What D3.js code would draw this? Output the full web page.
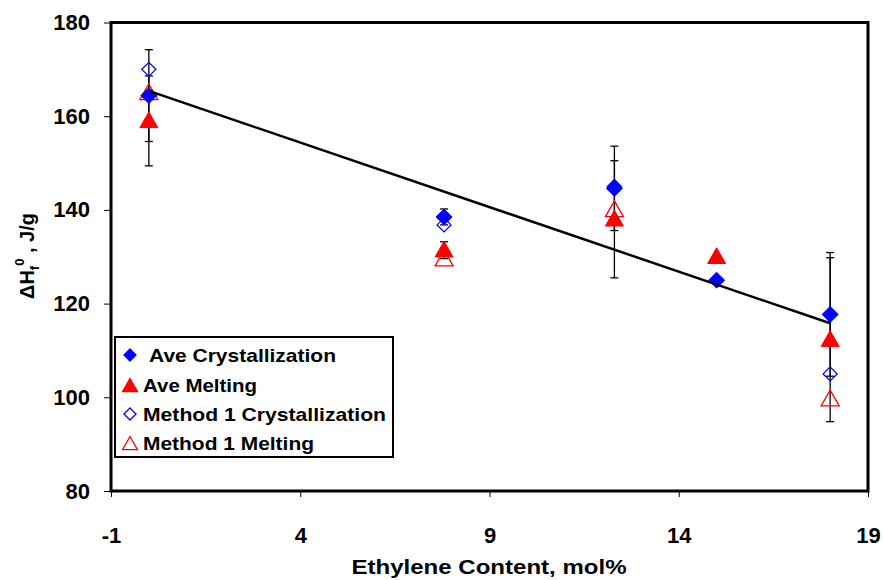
<!DOCTYPE html>
<html><head><meta charset="utf-8">
<script src="https://cdn.jsdelivr.net/npm/d3@7"></script>
<style>body{margin:0;background:#fff}svg{display:block}text{font-family:"Liberation Sans",Arial,sans-serif;font-weight:bold}</style>
</head><body>
<svg id="chart" width="884" height="580"></svg>
<script>
// Data
const xTicks = [-1, 4, 9, 14, 19];
const yTicks = [80, 100, 120, 140, 160, 180];
const aveCrystX = [0, 7.8, 12.3, 15, 18];
const aveCrystY = [164.4, 138.5, 144.6, 125, 117.7];
const aveCrystErr = [9.8, 1.7, 9.0, 0, 13.2];
const aveMeltX = [0, 7.8, 12.3, 15, 18];
const aveMeltY = [159.0, 131.4, 138.0, 130, 112.3];
const aveMeltErr = [9.6, 1.8, 12.5, 0, 17.5];
const m1CrystX = [0, 7.8, 12.3, 18];
const m1CrystY = [170, 136.8, 145, 105];
const m1MeltX = [0, 7.8, 12.3, 18];
const m1MeltY = [165, 129.5, 140, 99.6];
const trendX = [0, 18];
const trendY = [165.4, 115.8];
const legendLabels = ["Ave Crystallization", "Ave Melting", "Method 1 Crystallization", "Method 1 Melting"];

const svg = d3.select("#chart");
const L = 111, R = 868, T = 22.5, B = 491;
const x = d3.scaleLinear().domain([-1, 19]).range([L, R]);
const y = d3.scaleLinear().domain([80, 180]).range([B, T]);

// axes
const xAxis = svg.append("g").attr("transform", `translate(0,${B})`)
  .call(d3.axisBottom(x).tickValues(xTicks).tickSize(6).tickPadding(30).tickFormat(d => String(d)));
const yAxis = svg.append("g").attr("transform", `translate(${L},0)`)
  .call(d3.axisLeft(y).tickValues(yTicks).tickSize(7).tickPadding(14).tickFormat(d => String(d)));
[xAxis, yAxis].forEach(g => {
  g.select(".domain").remove();
  g.selectAll("line").attr("stroke", "#000").attr("stroke-width", 1);
  g.selectAll("text").attr("font-size", 22).attr("font-weight", "bold").attr("fill", "#000")
   .attr("font-family", "Liberation Sans, Arial, sans-serif");
});

// frame
svg.append("rect").attr("x", L).attr("y", T).attr("width", R - L).attr("height", B - T)
  .attr("fill", "none").attr("stroke", "#000").attr("stroke-width", 3);

// error bars
function errBars(xs, ys, es) {
  const g = svg.append("g");
  xs.forEach((xv, i) => {
    if (!es[i]) return;
    const cx = x(xv), y1 = y(ys[i] + es[i]), y2 = y(ys[i] - es[i]);
    g.append("line").attr("x1", cx).attr("x2", cx).attr("y1", y1).attr("y2", y2).attr("stroke", "#000").attr("stroke-width", 1.3);
    [y1, y2].forEach(yy => g.append("line").attr("x1", cx - 4).attr("x2", cx + 4).attr("y1", yy).attr("y2", yy).attr("stroke", "#000").attr("stroke-width", 1.3));
  });
}
errBars(aveMeltX, aveMeltY, aveMeltErr);
errBars(aveCrystX, aveCrystY, aveCrystErr);

const diamond = (s) => `M0,${-s}L${s},0L0,${s}L${-s},0Z`;
const tri = (s) => `M0,${-s}L${s*1.0},${s*0.75}L${-s*1.0},${s*0.75}Z`;

function pts(xs, ys, path, fill, stroke, sw) {
  svg.append("g").selectAll("path").data(xs).join("path")
    .attr("d", path).attr("transform", (d, i) => `translate(${x(d)},${y(ys[i])})`)
    .attr("fill", fill).attr("stroke", stroke).attr("stroke-width", sw);
}
pts(m1MeltX, m1MeltY, tri(9), "none", "#ff0000", 1.3);
pts(m1CrystX, m1CrystY, diamond(7), "none", "#0000ff", 1.3);
pts(aveMeltX, aveMeltY, tri(9), "#ff0000", "#ff0000", 1);
pts(aveCrystX, aveCrystY, diamond(8), "#0000ff", "#0000ff", 1);

// trendline
svg.append("path").datum(trendX.map((d, i) => [d, trendY[i]]))
  .attr("d", d3.line().x(d => x(d[0])).y(d => y(d[1])))
  .attr("fill", "none").attr("stroke", "#000").attr("stroke-width", 2.5);

// legend
const lg = svg.append("g");
lg.append("rect").attr("x", 115).attr("y", 337).attr("width", 278).attr("height", 120)
  .attr("fill", "#fff").attr("stroke", "#000").attr("stroke-width", 2);
const rowY = [355, 385, 414, 443];
const textX = [149, 143, 143, 143];
const textLen = [187, 114, 243, 171];
const symbols = [
  {d: diamond(6), fill: "#0000ff", stroke: "#0000ff"},
  {d: tri(7.5), fill: "#ff0000", stroke: "#ff0000"},
  {d: diamond(6), fill: "none", stroke: "#0000ff"},
  {d: tri(7.5), fill: "none", stroke: "#ff0000"}
];
legendLabels.forEach((lab, i) => {
  lg.append("path").attr("d", symbols[i].d).attr("transform", `translate(130,${rowY[i] + (i % 2 ? 1 : 0)})`)
    .attr("fill", symbols[i].fill).attr("stroke", symbols[i].stroke).attr("stroke-width", 1.3);
  lg.append("text").attr("x", textX[i]).attr("y", rowY[i]).attr("dy", "0.36em")
    .attr("font-size", 18.5).attr("textLength", textLen[i]).attr("lengthAdjust", "spacingAndGlyphs").text(lab);
});

// axis titles
svg.append("text").attr("x", 489).attr("y", 574).attr("text-anchor", "middle")
  .attr("font-size", 21).attr("textLength", 275).attr("lengthAdjust", "spacingAndGlyphs").text("Ethylene Content, mol%");
const yl = svg.append("text").attr("transform", "translate(34,256) rotate(-90)").attr("text-anchor", "middle").attr("font-size", 20);
yl.append("tspan").text("ΔH");
yl.append("tspan").attr("font-size", 13).attr("dy", 5).text("f");
yl.append("tspan").attr("font-size", 13).attr("dy", -15).text("0");
yl.append("tspan").attr("dy", 10).style("white-space", "pre").text(" , J/g");
</script>
</body></html>
